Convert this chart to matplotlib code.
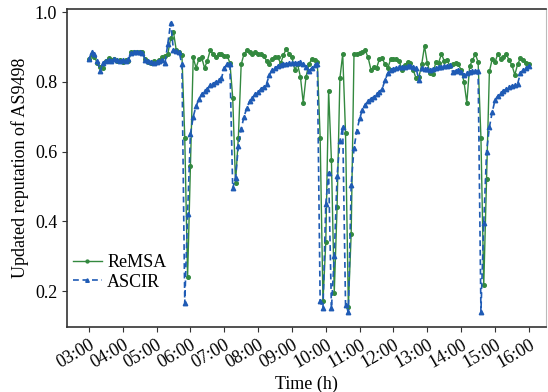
import numpy as np
import pandas as pd
import matplotlib
matplotlib.use('Agg')
from matplotlib import pyplot as plt
import matplotlib.dates as mdates

plt.rcParams['font.family'] = ['Liberation Serif', 'DejaVu Serif']

# samples every 5 minutes from 03:00 to 16:00
times = pd.date_range('2021-01-01 03:00', '2021-01-01 16:00', freq='5min')

remsa = [
    0.865, 0.877, 0.872, 0.853, 0.843, 0.84, 0.86, 0.868, 0.862, 0.865,
    0.86, 0.862, 0.858, 0.862, 0.86, 0.885, 0.887, 0.885, 0.887, 0.885,
    0.865, 0.857, 0.855, 0.86, 0.857, 0.862, 0.87, 0.875, 0.88, 0.925,
    0.943, 0.89, 0.885, 0.877, 0.64, 0.24, 0.56, 0.87, 0.84, 0.865,
    0.87, 0.84, 0.86, 0.89, 0.88, 0.87, 0.88, 0.88, 0.875, 0.875,
    0.855, 0.755, 0.51, 0.64, 0.85, 0.88, 0.89, 0.885, 0.88, 0.885,
    0.88, 0.88, 0.875, 0.86, 0.85, 0.865, 0.87, 0.87, 0.853, 0.877,
    0.895, 0.88, 0.87, 0.835, 0.85, 0.815, 0.74, 0.815, 0.85, 0.865,
    0.862, 0.857, 0.64, 0.17, 0.34, 0.775, 0.575, 0.195, 0.44, 0.81,
    0.88, 0.653, 0.155, 0.365, 0.88, 0.88, 0.882, 0.885, 0.89, 0.87,
    0.835, 0.843, 0.84, 0.865, 0.868, 0.85, 0.84, 0.865, 0.866, 0.865,
    0.86, 0.834, 0.848, 0.857, 0.855, 0.834, 0.81, 0.813, 0.85, 0.903,
    0.853, 0.826, 0.822, 0.857, 0.855, 0.88, 0.86, 0.862, 0.845, 0.85,
    0.853, 0.85, 0.834, 0.80, 0.74, 0.845, 0.862, 0.88, 0.857, 0.64,
    0.217, 0.52, 0.83, 0.865, 0.857, 0.88, 0.867, 0.87, 0.88, 0.862,
    0.848, 0.82, 0.85, 0.868, 0.862, 0.855, 0.852,
]

ascir = [
    0.865, 0.885, 0.88, 0.86, 0.83, 0.855, 0.86, 0.862, 0.86, 0.865,
    0.862, 0.86, 0.862, 0.86, 0.865, 0.882, 0.887, 0.887, 0.885, 0.882,
    0.862, 0.86, 0.858, 0.855, 0.858, 0.86, 0.862, 0.855, 0.91, 0.97,
    0.89, 0.888, 0.885, 0.85, 0.165, 0.42, 0.65, 0.70, 0.73, 0.75,
    0.765, 0.775, 0.78, 0.79, 0.795, 0.80, 0.805, 0.81, 0.84, 0.85,
    0.85, 0.495, 0.525, 0.615, 0.665, 0.70, 0.725, 0.745, 0.755, 0.765,
    0.77, 0.78, 0.785, 0.795, 0.82, 0.835, 0.84, 0.845, 0.848, 0.85,
    0.852, 0.853, 0.854, 0.855, 0.855, 0.856, 0.852, 0.843, 0.83, 0.84,
    0.848, 0.85, 0.17, 0.15, 0.45, 0.54, 0.15, 0.30, 0.53, 0.63,
    0.67, 0.16, 0.14, 0.505, 0.61, 0.66, 0.695, 0.72, 0.735, 0.745,
    0.752, 0.757, 0.765, 0.772, 0.78, 0.805, 0.825, 0.834, 0.838, 0.84,
    0.842, 0.843, 0.843, 0.845, 0.845, 0.842, 0.84, 0.805, 0.84, 0.838,
    0.836, 0.834, 0.838, 0.84, 0.842, 0.844, 0.845, 0.846, 0.847, 0.828,
    0.832, 0.834, 0.828, 0.82, 0.826, 0.828, 0.83, 0.832, 0.83, 0.14,
    0.395, 0.60, 0.67, 0.713, 0.748, 0.76, 0.767, 0.775, 0.779, 0.784,
    0.788, 0.79, 0.794, 0.825, 0.834, 0.84, 0.845,
]

tick_hours = list(range(3, 17))
y_ticks = [0.2, 0.4, 0.6, 0.8, 1.0]

fig = plt.figure(figsize=(5.48, 3.92), dpi=100)
ax = fig.add_axes([0.122, 0.166, 0.874, 0.811])

ax.plot(times, remsa, color='#33893f', linestyle='-', linewidth=1.0,
        marker='o', markersize=2.6, label='ReMSA')
ax.plot(times, ascir, color='#1f5bb5', linestyle=(0, (3.5, 2.2)), linewidth=1.2,
        marker='^', markersize=3.2, label='ASCIR')

ax.set_xlim(pd.Timestamp('2021-01-01 02:21'), pd.Timestamp('2021-01-01 16:30'))
ax.set_ylim(0.097, 1.009)
ax.set_xticks([pd.Timestamp('2021-01-01') + pd.Timedelta(hours=h) for h in tick_hours])
ax.xaxis.set_major_formatter(mdates.DateFormatter('%H:%M'))
ax.set_yticks(y_ticks)
ax.set_yticklabels(['%.1f' % v for v in y_ticks])

ax.tick_params(axis='both', labelsize=13, direction='out', length=3.5, width=0.8, colors='#333333')
ax.tick_params(axis='both', labelcolor='black')
for lab in ax.get_xticklabels():
    lab.set_rotation(30)
    lab.set_ha('right')
    lab.set_rotation_mode('anchor')

for side in ['left', 'bottom', 'top']:
    ax.spines[side].set_color('#333333')
    ax.spines[side].set_linewidth(1.2)
ax.spines['right'].set_color('#bbbbbb')
ax.spines['right'].set_linewidth(0.8)

ax.set_xlabel('Time (h)', fontsize=13, labelpad=3)
ax.set_ylabel('Updated reputation of AS9498', fontsize=13, labelpad=4)

ax.legend(loc='lower left', bbox_to_anchor=(-0.01, 0.08), frameon=False,
          fontsize=13, handlelength=1.6, handletextpad=0.3,
          labelspacing=0.15, borderaxespad=0.2, markerscale=0.8)

fig.savefig('out.png', dpi=100)
